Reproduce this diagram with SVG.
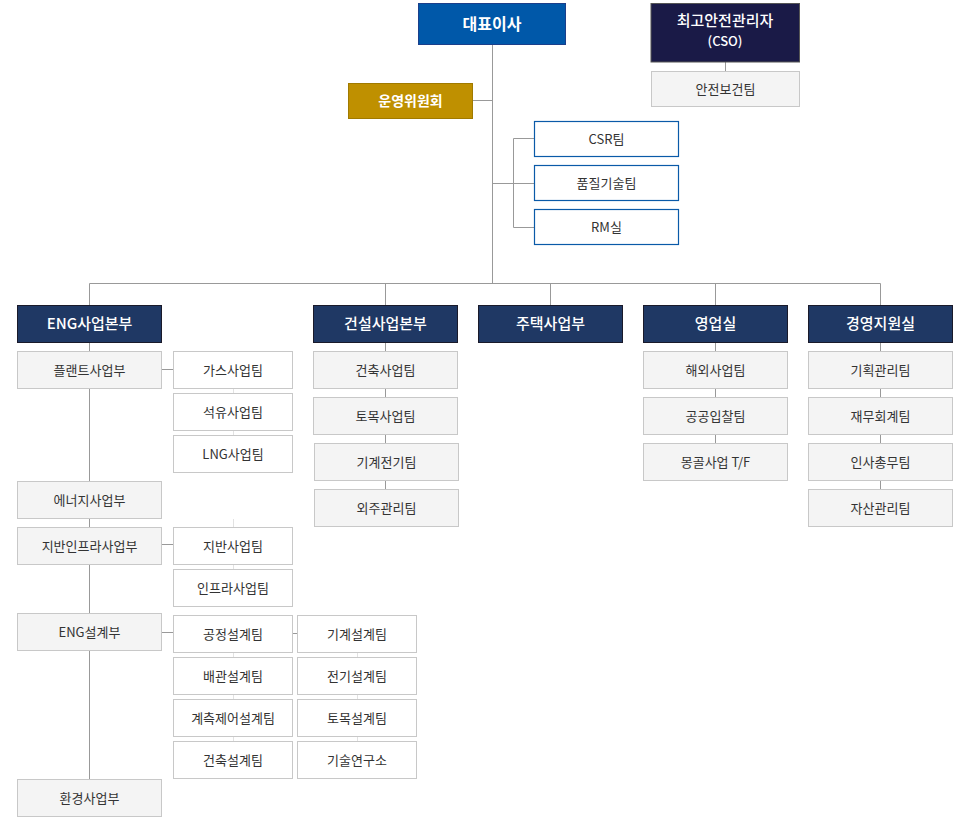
<svg xmlns="http://www.w3.org/2000/svg" width="970" height="820" viewBox="0 0 970 820">
<style>
text{font-family:"Noto Sans CJK KR","Noto Sans",sans-serif;text-anchor:middle}
.t{font-size:13px;fill:#333}
.h{font-size:15px;fill:#fff;font-weight:500}
.g rect{fill:#f4f4f4;stroke:#c8c8c8;stroke-width:1}
.w rect{fill:#fff;stroke:#c8c8c8;stroke-width:1}
.b rect{fill:#fff;stroke:#0a5aa8;stroke-width:1.2}
.n rect{fill:#1f3864;stroke:#1a1a2a;stroke-width:1}
.ln{stroke:#999;stroke-width:1;fill:none}
.fl{stroke:#e2e2e2;stroke-width:1;fill:none}
</style>
<g id="connectors">
<path class="ln" d="M492.5 44V283.5M472.5 100.5H492.5M492.5 183.5H534.5M513.5 138.5V227.5M513.5 138.5H534.5M513.5 227.5H534.5M725.5 62V71"/>
<path class="ln" d="M89.5 283.5H880.5M89.5 283.5V305M385.5 283.5V305M550.5 283.5V305M715.5 283.5V305M880.5 283.5V305"/>
<path class="ln" d="M89.5 342V779M161.5 369.5H173.5M161.5 544.5H173.5M161.5 632.5H173.5M292.5 633.5H297.5"/>
<path class="ln" d="M385.5 342V351M385.5 388V397M385.5 434V443M385.5 480V489"/>
<path class="ln" d="M715.5 342V351M715.5 388V397M715.5 434V443"/>
<path class="ln" d="M880.5 342V351M880.5 388V397M880.5 434V443M880.5 480V489"/>
<path class="fl" d="M233.5 388V393M233.5 430V435M233.5 519V527M233.5 564V569M233.5 652V657M233.5 694V699M233.5 736V741M357.5 652V657M357.5 694V699M357.5 736V741"/>
</g>
<g id="ceo"><rect x="418.5" y="3.5" width="147" height="41" fill="#0058a9" stroke="#1b3f8b"/><text x="492" y="29.5" style="font-size:16px;fill:#fff;font-weight:700">대표이사</text></g>
<g id="cso"><rect x="651" y="3.5" width="148.5" height="58.5" fill="#1a1a47" stroke="#555"/><text x="725" y="26" style="font-size:15px;fill:#fff;font-weight:500">최고안전관리자</text><text x="725" y="46" style="font-size:13px;fill:#fff;font-weight:500">(CSO)</text></g>
<g id="safety" class="g"><rect x="651.5" y="71.5" width="148" height="35"/><text class="t" x="725.5" y="93.5">안전보건팀</text></g>
<g id="committee"><rect x="348.5" y="83.5" width="124" height="35" fill="#bf9000" stroke="#a07a00"/><text x="410.5" y="105.5" style="font-size:14px;fill:#fff;font-weight:700">운영위원회</text></g>
<g id="csr" class="b"><rect x="534.5" y="121.5" width="144" height="35"/><text class="t" x="606.5" y="143.5">CSR팀</text></g>
<g id="quality" class="b"><rect x="534.5" y="165.5" width="144" height="35"/><text class="t" x="606.5" y="187.5">품질기술팀</text></g>
<g id="rm" class="b"><rect x="534.5" y="209.5" width="144" height="35"/><text class="t" x="606.5" y="231.5">RM실</text></g>

<g id="eng" class="n"><rect x="17.5" y="305.5" width="144" height="37"/><text class="h" x="89.5" y="329">ENG사업본부</text></g>
<g id="const" class="n"><rect x="313.5" y="305.5" width="144" height="37"/><text class="h" x="385.5" y="329">건설사업본부</text></g>
<g id="housing" class="n"><rect x="478.5" y="305.5" width="144" height="37"/><text class="h" x="550.5" y="329">주택사업부</text></g>
<g id="sales" class="n"><rect x="643.5" y="305.5" width="144" height="37"/><text class="h" x="715.5" y="329">영업실</text></g>
<g id="mgmt" class="n"><rect x="808.5" y="305.5" width="144" height="37"/><text class="h" x="880.5" y="329">경영지원실</text></g>

<g id="plant" class="g"><rect x="17.5" y="351.5" width="144" height="37"/><text class="t" x="89.5" y="374.5">플랜트사업부</text></g>
<g id="energy" class="g"><rect x="17.5" y="481.5" width="144" height="37"/><text class="t" x="89.5" y="504.5">에너지사업부</text></g>
<g id="infra" class="g"><rect x="17.5" y="527.5" width="144" height="37"/><text class="t" x="89.5" y="550.5">지반인프라사업부</text></g>
<g id="engdesign" class="g"><rect x="17.5" y="613.5" width="144" height="37"/><text class="t" x="89.5" y="636.5">ENG설계부</text></g>
<g id="env" class="g"><rect x="17.5" y="779.5" width="144" height="37"/><text class="t" x="89.5" y="802.5">환경사업부</text></g>

<g id="gas" class="w"><rect x="173.5" y="351.5" width="119" height="37"/><text class="t" x="233" y="374.5">가스사업팀</text></g>
<g id="oil" class="w"><rect x="173.5" y="393.5" width="119" height="37"/><text class="t" x="233" y="416.5">석유사업팀</text></g>
<g id="lng" class="w"><rect x="173.5" y="435.5" width="119" height="37"/><text class="t" x="233" y="458.5">LNG사업팀</text></g>
<g id="ground" class="w"><rect x="173.5" y="527.5" width="119" height="37"/><text class="t" x="233" y="550.5">지반사업팀</text></g>
<g id="infrateam" class="w"><rect x="173.5" y="569.5" width="119" height="37"/><text class="t" x="233" y="592.5">인프라사업팀</text></g>
<g id="process" class="w"><rect x="173.5" y="615.5" width="119" height="37"/><text class="t" x="233" y="638.5">공정설계팀</text></g>
<g id="piping" class="w"><rect x="173.5" y="657.5" width="119" height="37"/><text class="t" x="233" y="680.5">배관설계팀</text></g>
<g id="instr" class="w"><rect x="173.5" y="699.5" width="119" height="37"/><text class="t" x="233" y="722.5">계측제어설계팀</text></g>
<g id="archdesign" class="w"><rect x="173.5" y="741.5" width="119" height="37"/><text class="t" x="233" y="764.5">건축설계팀</text></g>
<g id="mech" class="w"><rect x="297.5" y="615.5" width="119" height="37"/><text class="t" x="357" y="638.5">기계설계팀</text></g>
<g id="elec" class="w"><rect x="297.5" y="657.5" width="119" height="37"/><text class="t" x="357" y="680.5">전기설계팀</text></g>
<g id="civil" class="w"><rect x="297.5" y="699.5" width="119" height="37"/><text class="t" x="357" y="722.5">토목설계팀</text></g>
<g id="rnd" class="w"><rect x="297.5" y="741.5" width="119" height="37"/><text class="t" x="357" y="764.5">기술연구소</text></g>

<g id="arch" class="g"><rect x="313.5" y="351.5" width="144" height="37"/><text class="t" x="385.5" y="374.5">건축사업팀</text></g>
<g id="civilbiz" class="g"><rect x="313.5" y="397.5" width="144" height="37"/><text class="t" x="385.5" y="420.5">토목사업팀</text></g>
<g id="mechelec" class="g"><rect x="314.5" y="443.5" width="144" height="37"/><text class="t" x="386.5" y="466.5">기계전기팀</text></g>
<g id="outsource" class="g"><rect x="314.5" y="489.5" width="144" height="37"/><text class="t" x="386.5" y="512.5">외주관리팀</text></g>

<g id="overseas" class="g"><rect x="643.5" y="351.5" width="144" height="37"/><text class="t" x="715.5" y="374.5">해외사업팀</text></g>
<g id="bid" class="g"><rect x="643.5" y="397.5" width="144" height="37"/><text class="t" x="715.5" y="420.5">공공입찰팀</text></g>
<g id="mongol" class="g"><rect x="643.5" y="443.5" width="144" height="37"/><text class="t" x="715.5" y="466.5">몽골사업 T/F</text></g>

<g id="plan" class="g"><rect x="808.5" y="351.5" width="144" height="37"/><text class="t" x="880.5" y="374.5">기획관리팀</text></g>
<g id="finance" class="g"><rect x="808.5" y="397.5" width="144" height="37"/><text class="t" x="880.5" y="420.5">재무회계팀</text></g>
<g id="hr" class="g"><rect x="808.5" y="443.5" width="144" height="37"/><text class="t" x="880.5" y="466.5">인사총무팀</text></g>
<g id="asset" class="g"><rect x="808.5" y="489.5" width="144" height="37"/><text class="t" x="880.5" y="512.5">자산관리팀</text></g>
</svg>
